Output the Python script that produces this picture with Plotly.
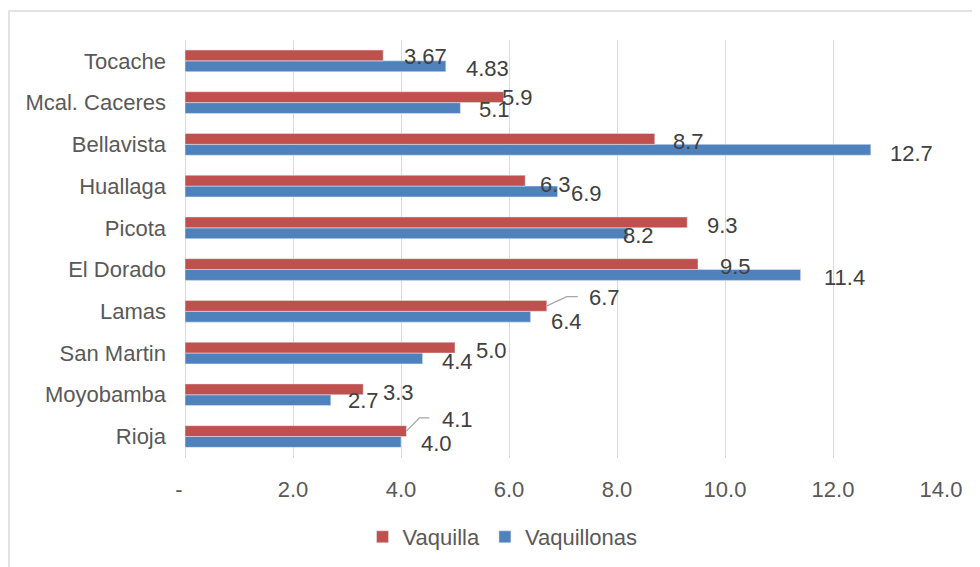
import plotly.graph_objects as go

# ---- data ----
categories = ["Rioja", "Moyobamba", "San Martin", "Lamas", "El Dorado",
              "Picota", "Huallaga", "Bellavista", "Mcal. Caceres", "Tocache"]
vaquilla = [4.1, 3.3, 5.0, 6.7, 9.5, 9.3, 6.3, 8.7, 5.9, 3.67]
vaquillonas = [4.0, 2.7, 4.4, 6.4, 11.4, 8.2, 6.9, 12.7, 5.1, 4.83]
vaquilla_text = ["4.1", "3.3", "5.0", "6.7", "9.5", "9.3", "6.3", "8.7", "5.9", "3.67"]
vaquillonas_text = ["4.0", "2.7", "4.4", "6.4", "11.4", "8.2", "6.9", "12.7", "5.1", "4.83"]
tick_vals = [0, 2, 4, 6, 8, 10, 12, 14]
tick_text = ["-\u00a0\u00a0", "2.0", "4.0", "6.0", "8.0", "10.0", "12.0", "14.0"]

# ---- label placement (pixel offsets from bar end / category centre; dy positive = down) ----
vaquilla_dx = [51, 35, 36, 58, 37, 35, 30, 34, 14, 42]
vaquilla_dy = [-17, -2, -3, -14, -3, -2, -2, -3, -5, -4]
vaquillonas_dx = [35, 33, 35, 36, 44, 11, 29, 41, 34, 42]
vaquillonas_dy = [7, 6, 8, 10, 8, 8, 7, 9, 7, 8]
# leader lines (category, path in px relative to bar end / category centre, y up)
leaders = {"Rioja": "M 0,5.4 L 13,18.7 L 23,18.7",
           "Lamas": "M 0,5.4 L 20,14.6 L 31,14.6"}

RED = "#C0504D"
BLUE = "#4F81BD"
FONT = "Liberation Sans"
FS = 22

fig = go.Figure()
fig.add_trace(go.Bar(y=categories, x=vaquillonas, orientation="h", name="Vaquillonas",
                     marker=dict(color=BLUE)))
fig.add_trace(go.Bar(y=categories, x=vaquilla, orientation="h", name="Vaquilla",
                     marker=dict(color=RED)))

annotations = []
for i, cat in enumerate(categories):
    annotations.append(dict(x=vaquilla[i], y=i, xref="x", yref="y", text=vaquilla_text[i],
                            showarrow=False, xshift=vaquilla_dx[i], yshift=-vaquilla_dy[i],
                            xanchor="center", yanchor="middle",
                            font=dict(family=FONT, size=FS, color="#404040")))
    annotations.append(dict(x=vaquillonas[i], y=i, xref="x", yref="y", text=vaquillonas_text[i],
                            showarrow=False, xshift=vaquillonas_dx[i], yshift=-vaquillonas_dy[i],
                            xanchor="center", yanchor="middle",
                            font=dict(family=FONT, size=FS, color="#404040")))

shapes = []
for cat, path in leaders.items():
    i = categories.index(cat)
    shapes.append(dict(type="path", xref="x", yref="y", xsizemode="pixel", ysizemode="pixel",
                       xanchor=vaquilla[i], yanchor=i, path=path,
                       line=dict(color="#A6A6A6", width=1.2)))
# chart-area border
shapes.append(dict(type="rect", xref="paper", yref="paper", x0=-0.2328, y0=-0.6,
                   x1=1.2, y1=1.0694, line=dict(color="#D9D9D9", width=1.5), layer="below"))

fig.update_layout(
    width=980, height=567,
    margin=dict(l=177, r=47, t=32, b=117),
    paper_bgcolor="white", plot_bgcolor="white",
    barmode="group", bargap=0.48, bargroupgap=0,
    font=dict(family=FONT, size=FS, color="#595959"),
    xaxis=dict(range=[0, 14], tickvals=tick_vals, ticktext=tick_text,
               showgrid=True, gridcolor="#D9D9D9", gridwidth=1,
               zeroline=True, zerolinecolor="#D9D9D9", zerolinewidth=1,
               showline=False, ticks="", ticklabelstandoff=16,
               tickfont=dict(family=FONT, size=FS, color="#595959")),
    yaxis=dict(type="category", categoryorder="array", categoryarray=categories,
               showgrid=False, showline=False, ticks="", ticklabelstandoff=18,
               tickfont=dict(family=FONT, size=FS, color="#595959")),
    legend=dict(orientation="h", x=0.420, xanchor="center", y=-0.189, yanchor="middle",
                traceorder="reversed", font=dict(family=FONT, size=FS, color="#595959"),
                itemwidth=30),
    annotations=annotations,
    shapes=shapes,
    showlegend=True,
)

fig.write_html("out.html")
